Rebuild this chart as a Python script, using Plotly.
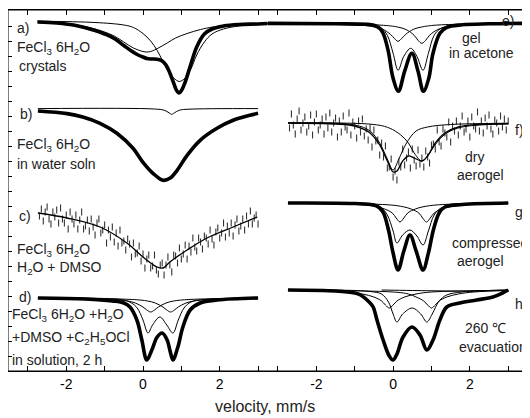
import plotly.graph_objects as go

# ---------------- data (velocity in mm/s, absorption dips in arbitrary units) -------------
# a) FeCl3 6H2O crystals
a_off = 349
a_data_v = [-2.75,-2.25,-1.75,-1.25,-1.0,-0.75,-0.5,-0.3,-0.15,0.0,0.1,0.2,0.3,0.4,0.5,0.6,0.7,0.8,0.87,0.94,1.01,1.1,1.25,1.4,1.6,1.8,2.1,2.5,3.0,3.25]
a_data_d = [0,1,3.5,8.5,12,16.5,23.5,29,32.5,35,36.5,37,37,37.5,39,43,51,61,68,71,68,60,42,25,12,7,4,2.5,2,1.5]
a_broad_v = [-2.75,-1.75,-1.25,-1.0,-0.75,-0.5,-0.25,0.0,0.1,0.2,0.4,0.63,0.85,1.15,1.5,1.83,2.5,3.25]
a_broad_d = [0,3,7,10,14,20,26,29.5,30,29.5,26,21,16,11.5,7.5,5,2.5,1.5]
a_narrow_v = [-2.75,-1.25,-0.5,-0.25,0.0,0.2,0.37,0.5,0.65,0.8,0.95,1.1,1.25,1.4,1.6,1.8,2.1,2.5,3.25]
a_narrow_d = [-0.8,0.5,3,5.5,11.5,19,28.5,38,49,56,59.5,56,47,33,20,12,7,4,1.3]

# b) in water solution
b_off = 260
b_data_v = [-2.74,-1.98,-1.57,-1.12,-0.68,-0.26,0.0,0.26,0.52,0.70,0.89,1.15,1.49,1.93,2.35,2.79,3.0]
b_data_d = [0,2.6,6,12.3,22.3,37.3,51.3,62.3,69.3,67.3,59.3,44.3,29.3,17.3,9.3,4.3,2.3]
b_comp_v = [-2.74,0.3,0.55,0.68,0.75,0.82,0.95,1.2,3.0]
b_comp_d = [-2.4,-2.0,-0.8,1.8,3.3,1.8,-0.8,-1.8,-2.4]

# c) H2O + DMSO (noisy data, 0.05 mm/s channels)
c_off = 158
c_fit_v = [-2.74,-1.98,-1.12,-0.42,0.0,0.37,0.52,0.70,1.15,1.67,2.35,2.98]
c_fit_d = [0,5,14,30,44,54,55,49,37,25,14,4]
c_data_v = [round(-2.7 + 0.05*i, 2) for i in range(115)]
c_data_d = [3,-4,8,-1,-6,6,11,-1,4,-3, 10,-5,6,10,2,16,-1,6,11,2, 16,7,-1,16,13,7,18,6,14,22,
            10,6,20,17,12,30,17,24,14,29, 20,33,17,30,28,37,26,31,44,30, 41,40,33,48,41,55,46,42,55,53,
            42,57,61,52,50,62,52,44,52,59, 42,43,50,35,46,41,32,46,33,39, 25,34,38,25,29,36,23,25,31,17,
            26,32,19,15,25,20,10,24,13,20, 10,23,12,6,18,13,6,17,3,11, -2,11,5,2,11]

# d) in solution, 2 h
d_off = 73
d_data_v = [-2.74,-1.5,-0.8,-0.5,-0.34,-0.16,-0.03,0.10,0.23,0.37,0.50,0.63,0.70,0.78,0.91,1.04,1.23,1.49,1.93,3.0]
d_data_d = [0,1,3,5,9,22,42,62,52,39,35,42,52,62,49,29,12,5,2,0]
d_deep_v = [-2.74,-1.0,-0.5,-0.3,-0.15,0.0,0.13,0.25,0.44,0.62,0.78,0.92,1.07,1.25,1.6,3.0]
d_deep_d = [0,0.5,2,5,10,22,35,27,19,27,35,22,10,4,1.5,0]
d_s1_v = [-2.74,-0.8,-0.4,-0.2,0.0,0.1,0.2,0.3,0.4,0.6,0.8,1.2,3.0]
d_s1_d = [0.2,1.5,3,5,9,12,14,12,9,5,3,1.5,0.2]
d_s2_v = [-2.74,-0.28,0.12,0.32,0.52,0.62,0.72,0.82,0.92,1.12,1.32,1.72,3.0]
d_s2_d = [0.2,1.5,3,5,9,12,14,12,9,5,3,1.5,0.4]

# e) gel in acetone
e_off = 347.7
e_data_v = [-3.4,-1.5,-0.7,-0.5,-0.35,-0.26,-0.13,0.0,0.14,0.3,0.49,0.65,0.79,0.93,1.04,1.22,1.4,1.8,2.5,3.45]
e_data_d = [0,0.5,1,2,5,10,27,55,68,48,30,48,68,55,30,10,4,1.5,0.5,0]
e_deep_v = [-3.4,-1.0,-0.5,-0.3,-0.15,0.0,0.13,0.28,0.46,0.62,0.78,0.92,1.07,1.25,1.6,3.45]
e_deep_d = [0,0.5,2,5,12,30,47,33,25,33,47,30,12,5,2,0]
e_s1_v = [-3.4,-0.87,-0.47,-0.27,-0.07,0.03,0.13,0.23,0.33,0.53,0.73,1.13,3.45]
e_s1_d = [0.2,1.8,3.8,6,11,15,18,15,11,6,3.8,1.8,0.3]
e_s2_v = [-3.4,-0.25,0.15,0.35,0.55,0.65,0.75,0.85,0.95,1.15,1.35,1.75,3.45]
e_s2_d = [0.2,2,4,6.5,12,17,20,17,12,6.5,4,2,0.4]

# f) dry aerogel (noisy data, 0.05 mm/s channels)
f_off = 248
f_fit_v = [-2.74,-1.5,-1.0,-0.6,-0.35,-0.15,0.0,0.1,0.25,0.4,0.55,0.75,0.9,1.1,1.35,1.7,2.2,3.0]
f_fit_d = [0,1,3,10,22,38,49,48,38,33,35,38,33,20,10,4,1.5,0.5]
f_c1_v = [-2.74,-1.0,-0.6,-0.35,-0.15,0.0,0.15,0.35,0.6,0.9,1.5,3.0]
f_c1_d = [0,2,8,20,36,47,36,20,8,4,1.5,0.3]
f_c2_v = [-2.74,-0.5,-0.1,0.2,0.4,0.55,0.75,0.95,1.15,1.4,1.8,3.0]
f_c2_d = [0,1.5,5,12,20,30,38,30,19,10,4,1]
f_data_v = [round(-2.7 + 0.05*i, 2) for i in range(115)]
f_data_d = [5,-9,2,11,-4,-12,7,0,-6,9, 3,-8,12,-1,-9,7,2,-4,11,-6, 5,-10,9,0,-5,14,-2,9,-7,4,
            7,-10,12,-1,3,15,-2,9,-4,13, 6,17,5,24,7,18,17,32,20,34, 23,45,44,36,54,48,57,39,44,26,
            42,35,29,45,26,37,43,27,41,35, 44,28,34,40,22,21,26,7,19,23, 6,10,14,-1,19,3,8,-2,12,3,
            -7,9,6,-2,14,-6,3,6,-11,8, -2,10,-5,3,-8,6,11,-3,0,8, -7,4,-4,7,-2]

# g) compressed aerogel
g_off = 168
g_data_v = [-2.74,-1.0,-0.5,-0.35,-0.25,-0.12,0.0,0.13,0.28,0.44,0.6,0.78,0.92,1.05,1.2,1.35,1.8,3.0]
g_data_d = [0,0.5,2,5,10,27,50,67,48,32,48,67,50,27,10,4,1.5,0]
g_deep_v = [-2.74,-1.0,-0.5,-0.3,-0.15,0.0,0.1,0.25,0.44,0.62,0.78,0.92,1.07,1.25,1.6,3.0]
g_deep_d = [0,0.5,2,5,12,28,40,32,27,33,42,28,12,5,2,0]
g_s1_v = [-2.74,-0.82,-0.42,-0.22,-0.02,0.08,0.18,0.28,0.38,0.58,0.78,1.18,3.0]
g_s1_d = [0.2,1.8,3.8,6,10,15,19,15,10,6,3.8,1.8,0.3]
g_s2_v = [-2.74,-0.13,0.27,0.47,0.67,0.77,0.87,0.97,1.07,1.27,1.47,1.87,3.0]
g_s2_d = [0.2,1.8,3.8,6,10,15,19,15,10,6,3.8,1.8,0.4]

# h) 260 C evacuation
h_off = 81
h_data_v = [-2.74,-1.5,-1.0,-0.85,-0.6,-0.52,-0.42,-0.26,-0.1,0.0,0.1,0.26,0.49,0.70,0.88,1.04,1.22,1.4,1.74,2.18,2.6,2.85,3.0]
h_data_d = [0,1,3,5,13,17,30,50,66,70,64,47,37,45,60,50,30,17,13,10,7,3,0]
h_deep_v = [-2.74,-1.0,-0.5,-0.3,-0.12,0.0,0.1,0.25,0.5,0.72,0.88,1.02,1.2,1.4,1.8,3.0]
h_deep_d = [0,0.5,2,4,12,24,32,24,18,24,32,24,11,5,2,0]
h_s1_v = [-2.74,-1.2,-0.8,-0.5,-0.3,-0.2,-0.1,0.0,0.1,0.3,0.6,1.0,3.0]
h_s1_d = [0.5,2,4,7,11,15,18,15,11,7,4,2,0.5]
h_s2_v = [-2.74,0.0,0.4,0.6,0.8,0.9,1.0,1.1,1.2,1.4,1.7,2.1,3.0]
h_s2_d = [0.3,2,4,7,11,15,18,15,11,7,4,2,0.5]
h_s3_v = [-0.3,0.5,1.5,2.0,2.5,3.0]
h_s3_d = [0,0.5,1,1,0.5,0]

# axis ticks
x_tickvals = [-3, -2, -1, 0, 1, 2, 3]
x_ticktext = ["", "-2", "", "0", "", "2", ""]

# ---------------- figure ----------------
fig = go.Figure()
BLACK = "black"

def curve(v, d, off, panel, width=1.0, color=BLACK, shape="spline"):
    fig.add_trace(go.Scatter(
        x=v, y=[off - dd for dd in d], mode="lines",
        line=dict(color=color, width=width, shape=shape, smoothing=1.0),
        xaxis="x" if panel == 1 else "x2", yaxis="y" if panel == 1 else "y2",
        showlegend=False, hoverinfo="skip"))

def scatter(v, d, off, panel):
    fig.add_trace(go.Scatter(
        x=v, y=[off - dd for dd in d], mode="markers",
        marker=dict(symbol="line-ns", size=5, line=dict(color="#333", width=1.1)),
        xaxis="x" if panel == 1 else "x2", yaxis="y" if panel == 1 else "y2",
        showlegend=False, hoverinfo="skip"))

DATA_W = 3.6
# left panel
curve(a_data_v, a_data_d, a_off, 1, DATA_W)
curve(a_broad_v, a_broad_d, a_off, 1)
curve(a_narrow_v, a_narrow_d, a_off, 1)
curve(b_data_v, b_data_d, b_off, 1, DATA_W)
curve(b_comp_v, b_comp_d, b_off, 1)
scatter(c_data_v, c_data_d, c_off, 1)
curve(c_fit_v, c_fit_d, c_off, 1, 1.3)
curve(d_data_v, d_data_d, d_off, 1, DATA_W)
curve(d_deep_v, d_deep_d, d_off, 1)
curve(d_s1_v, d_s1_d, d_off, 1)
curve(d_s2_v, d_s2_d, d_off, 1)
# right panel
curve(e_data_v, e_data_d, e_off, 2, DATA_W)
curve(e_deep_v, e_deep_d, e_off, 2)
curve(e_s1_v, e_s1_d, e_off, 2)
curve(e_s2_v, e_s2_d, e_off, 2)
scatter(f_data_v, f_data_d, f_off, 2)
curve(f_fit_v, f_fit_d, f_off, 2, 1.3)
curve(f_c1_v, f_c1_d, f_off, 2)
curve(f_c2_v, f_c2_d, f_off, 2)
curve(g_data_v, g_data_d, g_off, 2, DATA_W)
curve(g_deep_v, g_deep_d, g_off, 2)
curve(g_s1_v, g_s1_d, g_off, 2)
curve(g_s2_v, g_s2_d, g_off, 2)
curve(h_data_v, h_data_d, h_off, 2, DATA_W)
curve(h_deep_v, h_deep_d, h_off, 2)
curve(h_s1_v, h_s1_d, h_off, 2)
curve(h_s2_v, h_s2_d, h_off, 2)
curve(h_s3_v, h_s3_d, h_off, 2)

FONT = "Liberation Sans, Arial, sans-serif"
xcommon = dict(showline=True, linecolor=BLACK, linewidth=1, mirror="ticks",
               ticks="inside", ticklen=5, tickwidth=1, tickcolor=BLACK, tickmode="array",
               tickvals=x_tickvals, ticktext=x_ticktext,
               showgrid=False, zeroline=False, tickfont=dict(family=FONT, size=14, color=BLACK))
ycommon = dict(range=[0, 361], showline=True, linecolor=BLACK, linewidth=1,
               ticks="inside", ticklen=4, tickwidth=1, tickcolor=BLACK, dtick=15, showticklabels=False,
               showgrid=False, zeroline=False)
SPLIT = 0.501
fig.update_layout(
    width=522, height=410, margin=dict(l=0, r=3, t=2, b=47),
    paper_bgcolor="white", plot_bgcolor="white",
    xaxis=dict(domain=[0, SPLIT], range=[-3.52, 3.26], anchor="y", **xcommon),
    xaxis2=dict(domain=[SPLIT, 1], range=[-3.26, 3.49], anchor="y2", **xcommon),
    yaxis=dict(anchor="x", side="left", **ycommon),
    yaxis2=dict(anchor="x2", side="right", **ycommon),
    font=dict(family=FONT, size=14, color=BLACK),
)
# outer frame of the whole figure
fig.add_shape(type="rect", xref="paper", yref="paper", x0=0, x1=1, y0=0, y1=1,
              line=dict(color=BLACK, width=1), fillcolor="rgba(0,0,0,0)", layer="above")

labels = [
    ("x", "y", -3.34, 343, "a)"),
    ("x", "y", -3.34, 323, "FeCl<sub>3</sub> 6H<sub>2</sub>O"),
    ("x", "y", -3.29, 305, "crystals"),
    ("x", "y", -3.26, 257, "b)"),
    ("x", "y", -3.34, 226, "FeCl<sub>3</sub> 6H<sub>2</sub>O"),
    ("x", "y", -3.34, 207, "in water soln"),
    ("x", "y", -3.29, 155, "c)"),
    ("x", "y", -3.34, 121, "FeCl<sub>3</sub> 6H<sub>2</sub>O"),
    ("x", "y", -3.34, 103, "H<sub>2</sub>O + DMSO"),
    ("x", "y", -3.29, 74, "d)"),
    ("x", "y", -3.47, 56, "FeCl<sub>3</sub> 6H<sub>2</sub>O +H<sub>2</sub>O"),
    ("x", "y", -3.47, 33, "+DMSO +C<sub>2</sub>H<sub>5</sub>OCl"),
    ("x", "y", -3.47, 11, "in solution, 2 h"),
    ("x2", "y2", 2.78, 350, "e)"),
    ("x2", "y2", 1.75, 333, "gel"),
    ("x2", "y2", 1.40, 318, "in acetone"),
    ("x2", "y2", 3.12, 241, "f)"),
    ("x2", "y2", 1.82, 214, "dry"),
    ("x2", "y2", 1.61, 196, "aerogel"),
    ("x2", "y2", 3.12, 159, "g)"),
    ("x2", "y2", 1.48, 128, "compressed"),
    ("x2", "y2", 1.61, 110, "aerogel"),
    ("x2", "y2", 3.12, 67, "h)"),
    ("x2", "y2", 1.82, 43, "260 ℃"),
    ("x2", "y2", 1.66, 24, "evacuation"),
]
for xr, yr, x, y, t in labels:
    fig.add_annotation(x=x, y=y, xref=xr, yref=yr, text=t, showarrow=False,
                       xanchor="left", yanchor="middle",
                       font=dict(family=FONT, size=14, color="#222"))

fig.add_annotation(x=0.495, y=-0.097, xref="paper", yref="paper", text="velocity, mm/s",
                   showarrow=False, xanchor="center", yanchor="middle",
                   font=dict(family=FONT, size=16, color="#222"))

fig.write_html("out.html")
